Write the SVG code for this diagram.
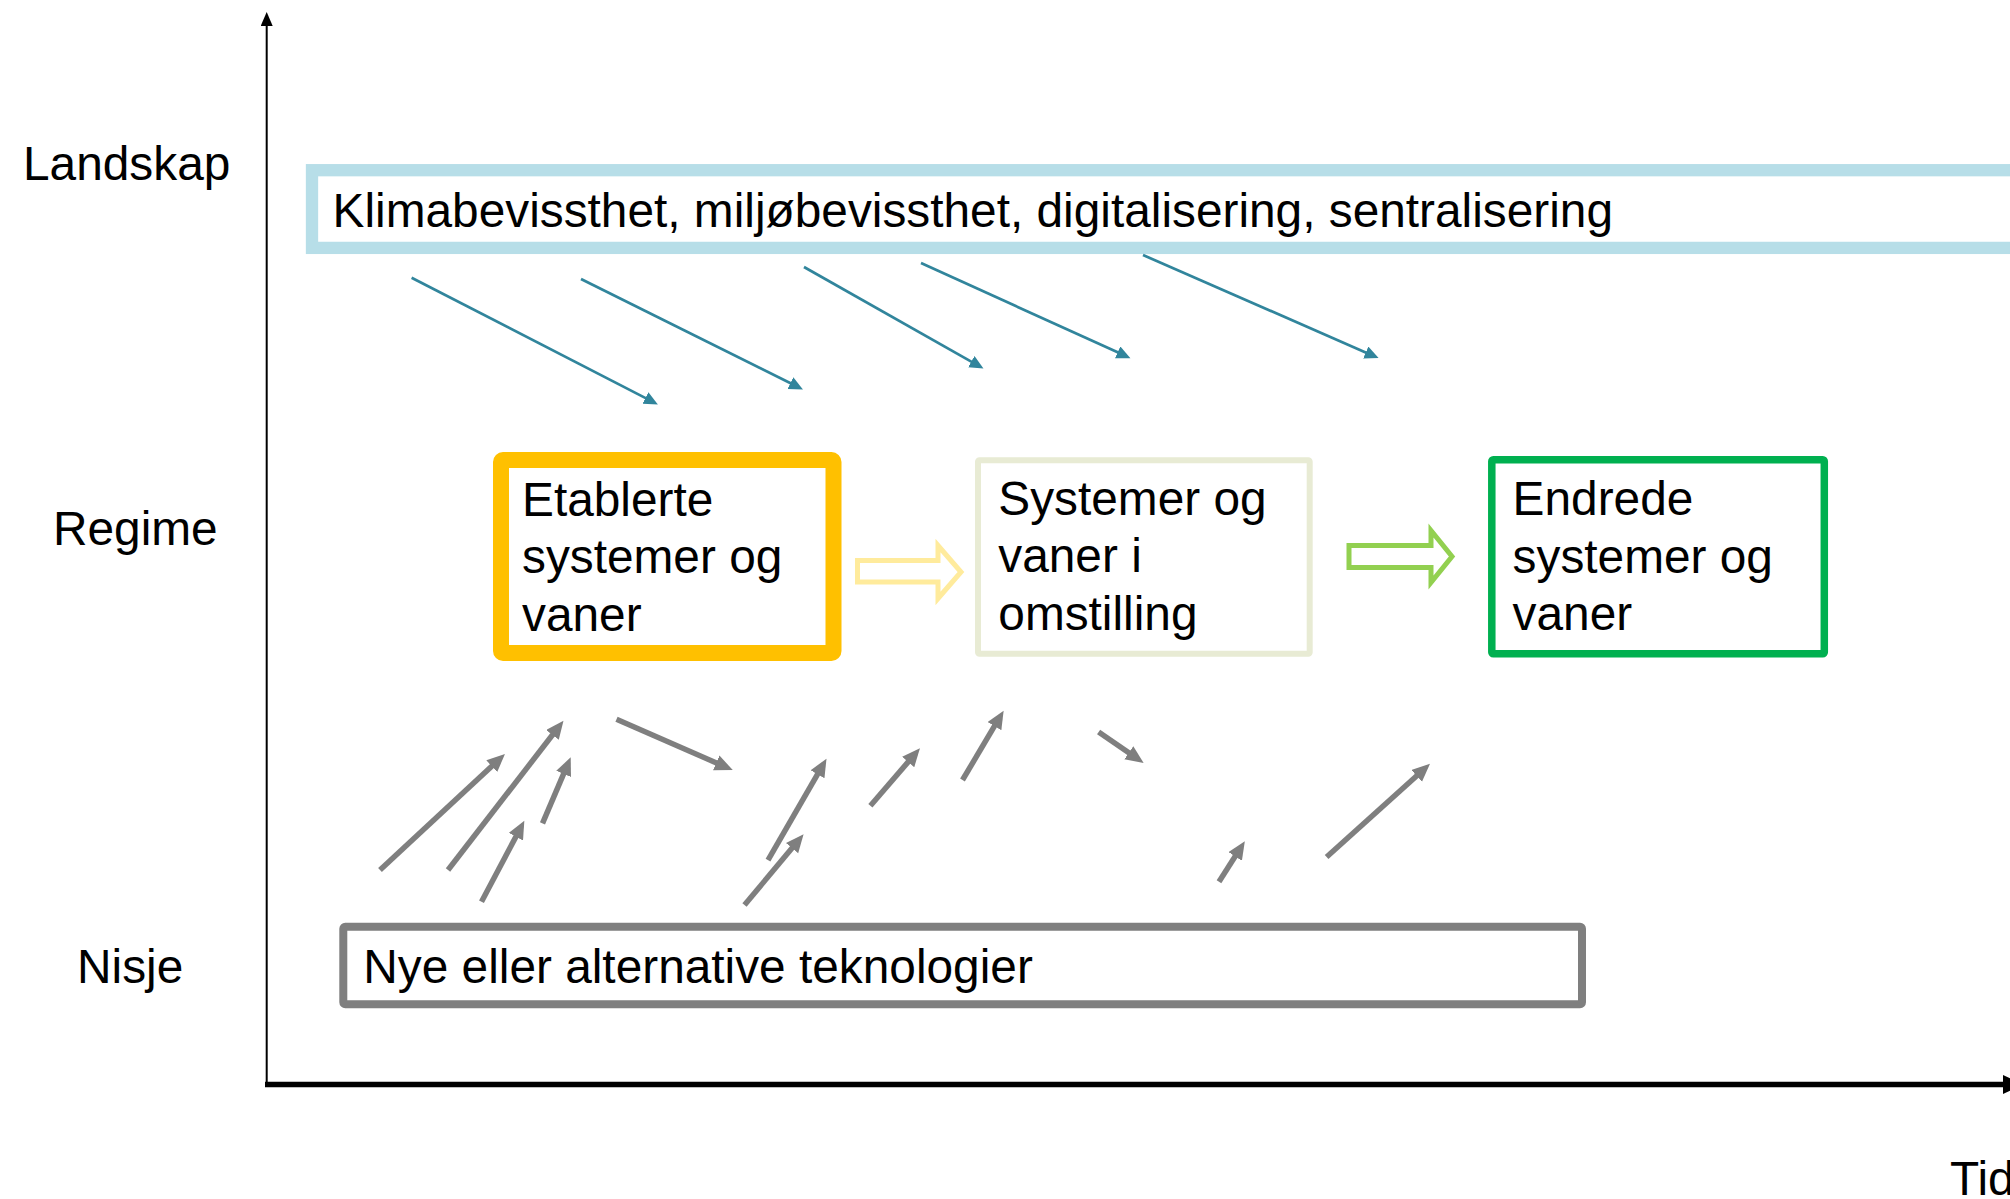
<svg xmlns="http://www.w3.org/2000/svg" width="2010" height="1199" viewBox="0 0 2010 1199">
<style>
  text { font-family: "Liberation Sans", Arial, sans-serif; font-size: 47.8px; fill: #000; }
  .teal { stroke: #31859C; stroke-width: 2.7; fill: none; }
  .gray { stroke: #7F7F7F; stroke-width: 5.5; fill: none; }
  .box { fill: #fff; }
</style>
<defs>
  <marker id="mTeal" markerUnits="userSpaceOnUse" markerWidth="16" markerHeight="14" refX="3" refY="6.5" orient="auto">
    <path d="M0,0 L14,6.5 L0,13 Z" fill="#31859C"/>
  </marker>
  <marker id="mGray" markerUnits="userSpaceOnUse" markerWidth="20" markerHeight="18" refX="4" refY="8" orient="auto">
    <path d="M0,0 L18,8 L0,16 Z" fill="#7F7F7F"/>
  </marker>
  <marker id="mAxis" markerUnits="userSpaceOnUse" markerWidth="16" markerHeight="14" refX="2" refY="6" orient="auto">
    <path d="M0,0 L14,6 L0,12 Z" fill="#000"/>
  </marker>
</defs>
<rect width="2010" height="1199" fill="#fff"/>

<g id="axes">
  <line x1="266.7" y1="1087" x2="266.7" y2="24" stroke="#000" stroke-width="2" marker-end="url(#mAxis)"/>
  <line x1="265" y1="1084.5" x2="2004" y2="1084.5" stroke="#000" stroke-width="5.5"/>
  <polygon points="2003,1075 2024,1084.5 2003,1094" fill="#000"/>
</g>

<g id="labels">
  <text x="23" y="180">Landskap</text>
  <text x="53" y="545">Regime</text>
  <text x="77" y="983">Nisje</text>
  <text x="1950" y="1195">Tid</text>
</g>

<g id="landskap">
  <rect class="box" x="312" y="170.2" width="1720" height="77.7" stroke="#B7DEE8" stroke-width="12.3"/>
  <text x="332.6" y="226.7">Klimabevissthet, miljøbevissthet, digitalisering, sentralisering</text>
</g>

<g id="etablerte">
  <rect class="box" x="501" y="460" width="332.5" height="193" stroke="#FFC000" stroke-width="16" rx="2"/>
  <text x="522" y="515.5">Etablerte</text>
  <text x="522" y="573">systemer og</text>
  <text x="522" y="630.5">vaner</text>
</g>

<g id="omstilling">
  <rect class="box" x="978" y="460.3" width="331.7" height="193.4" stroke="#E8EBD4" stroke-width="6" rx="1.5"/>
  <text x="998.3" y="514.5">Systemer og</text>
  <text x="998.3" y="572">vaner i</text>
  <text x="998.3" y="630">omstilling</text>
</g>

<g id="endrede">
  <rect class="box" x="1491.8" y="459.8" width="332.5" height="194" stroke="#00B050" stroke-width="7.5" rx="1.5"/>
  <text x="1512.6" y="515">Endrede</text>
  <text x="1512.6" y="572.5">systemer og</text>
  <text x="1512.6" y="630">vaner</text>
</g>

<g id="nisje">
  <rect class="box" x="343.3" y="926.7" width="1238.7" height="77.5" stroke="#7F7F7F" stroke-width="8" rx="2"/>
  <text x="363.3" y="982.7">Nye eller alternative teknologier</text>
</g>

<g id="connectors">
  <line class="teal" x1="411.6" y1="277.7" x2="648.1" y2="399.4" marker-end="url(#mTeal)"/>
  <line class="teal" x1="581" y1="279" x2="793.1" y2="384.5" marker-end="url(#mTeal)"/>
  <line class="teal" x1="804" y1="267" x2="973.9" y2="363.1" marker-end="url(#mTeal)"/>
  <line class="teal" x1="921" y1="263" x2="1120.4" y2="353.6" marker-end="url(#mTeal)"/>
  <line class="teal" x1="1143" y1="255" x2="1368.5" y2="353.7" marker-end="url(#mTeal)"/>

  <path d="M857.5,560.5 L938,560.5 L938,545.5 L961,572 L938,598.5 L938,582 L857.5,582 Z" fill="none" stroke="#FFEB9C" stroke-width="5"/>
  <path d="M1349,545.5 L1431,545.5 L1431,530.5 L1452,556.5 L1431,582.5 L1431,567.5 L1349,567.5 Z" fill="none" stroke="#92D050" stroke-width="5"/>

  <line class="gray" x1="380" y1="870" x2="494.7" y2="763.5" marker-end="url(#mGray)"/>
  <line class="gray" x1="448" y1="870" x2="554.9" y2="731.8" marker-end="url(#mGray)"/>
  <line class="gray" x1="481.5" y1="901.7" x2="517.8" y2="833.1" marker-end="url(#mGray)"/>
  <line class="gray" x1="542.5" y1="823.3" x2="565.2" y2="770.2" marker-end="url(#mGray)"/>
  <line class="gray" x1="616.5" y1="719.3" x2="719.9" y2="764.4" marker-end="url(#mGray)"/>
  <line class="gray" x1="768" y1="860" x2="819.5" y2="770.8" marker-end="url(#mGray)"/>
  <line class="gray" x1="744.5" y1="905" x2="794.6" y2="845.1" marker-end="url(#mGray)"/>
  <line class="gray" x1="870.4" y1="805.7" x2="910.8" y2="758.9" marker-end="url(#mGray)"/>
  <line class="gray" x1="962.5" y1="780" x2="996.5" y2="722.7" marker-end="url(#mGray)"/>
  <line class="gray" x1="1098.6" y1="732" x2="1132.1" y2="755" marker-end="url(#mGray)"/>
  <line class="gray" x1="1219" y1="881.7" x2="1237.3" y2="853" marker-end="url(#mGray)"/>
  <line class="gray" x1="1326.6" y1="857" x2="1419.6" y2="773.2" marker-end="url(#mGray)"/>
</g>
</svg>
